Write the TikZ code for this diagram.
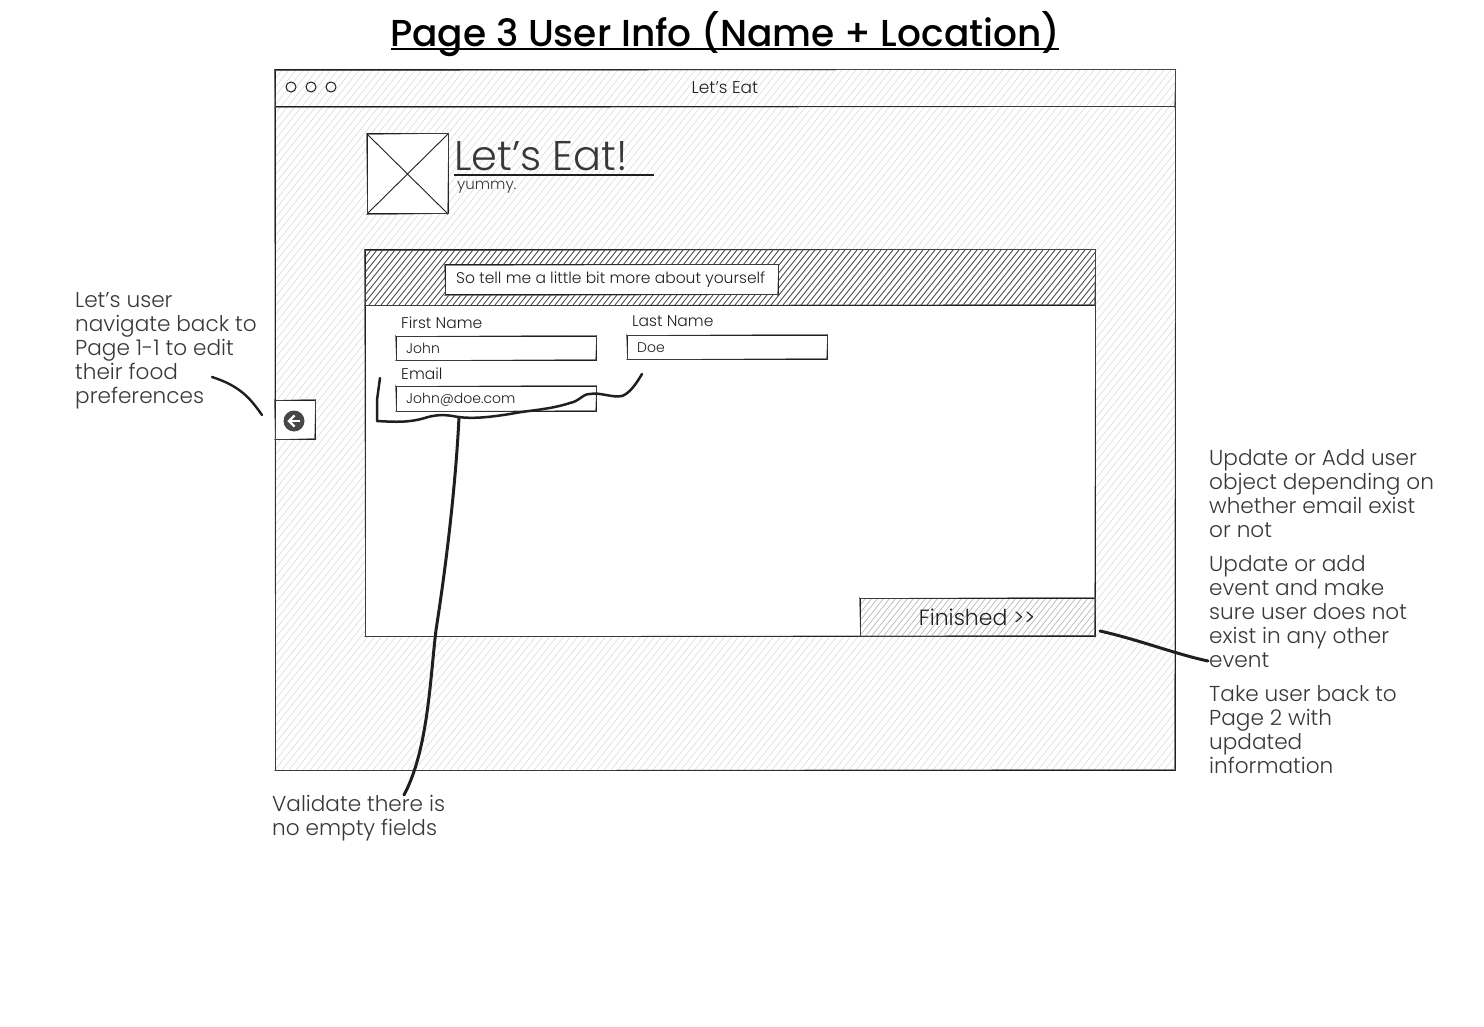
\documentclass[tikz,border=0pt]{standalone}
\usepackage{fontspec}
\setmainfont{Poppins}[UprightFont=* Light,BoldFont=* Medium]
\definecolor{ink}{gray}{0.12}
\definecolor{note}{gray}{0.22}
\newcommand{\hatchbox}[7]{%x1 y1 x2 y2 spacing colour width
  \begin{scope}
    \clip (#1,#2) rectangle (#3,#4);
    \pgfmathsetmacro{\hh}{(#4-#2)*0.8}
    \pgfmathtruncatemacro{\nn}{(#3-#1+\hh)/#5}
    \foreach \k in {0,...,\nn}{
      \pgfmathsetmacro{\xx}{#1-\hh+\k*#5}
      \draw[#6,line width=#7] (\xx,#4) -- ({\xx+\hh},#2);
    }
  \end{scope}}
\newcommand{\fs}[2]{\fontsize{#1}{#2}\selectfont}
% second, slightly crooked pen stroke round a named box
\newcommand{\resketch}[1]{%
  \draw[ink!80,line width=0.5pt,line cap=round]
    ([shift={(-0.6,0.5)}]#1.north west) -- ([shift={(0.8,-0.7)}]#1.north east)
    ([shift={(0.6,-0.6)}]#1.north east) -- ([shift={(-0.4,0.8)}]#1.south east)
    ([shift={(0.8,-0.5)}]#1.south east) -- ([shift={(-0.7,0.7)}]#1.south west)
    ([shift={(0.5,0.7)}]#1.south west) -- ([shift={(-0.5,-0.8)}]#1.north west);}
\tikzset{
  x=1pt,y=-1pt,
  box/.style={draw=ink,line width=1pt,anchor=north west,inner sep=0pt,outer sep=0pt,minimum width=#1},
  txt/.style={anchor=west,inner sep=0pt,text=ink},
  lab/.style={txt,font=\fs{15.5}{18}},
  val/.style={txt,font=\fs{14}{18}},
  notetxt/.style={anchor=north west,inner sep=0pt,align=left,text=note,font=\fs{21.6}{24}},
  conn/.style={draw=ink,line cap=round,line join=round},
}
\begin{document}
\begin{tikzpicture}
\useasboundingbox (0,0) rectangle (1484,1027);
\fill[white] (0,0) rectangle (1484,1027);
% title
\node[inner sep=0pt,text=black,font=\fs{37.5}{40}\bfseries] (title) at (725,34) {Page 3 User Info (Name + Location)};
\draw[black,line width=2.4pt] (391,49) -- (1059,49);
% window
\hatchbox{275}{70}{1175}{770}{7}{black!14}{0.55pt}
\node[box=900pt,minimum height=700pt] (window) at (275,70) {};
\node[box=900pt,minimum height=37pt] (titlebar) at (275,70) {};
\foreach \n/\x in {d1/291,d2/311,d3/331}
  \node[circle,draw=ink,line width=1pt,minimum size=10pt,inner sep=0pt] (\n) at (\x,87) {};
\node[inner sep=0pt,text=ink,font=\fs{17}{18}] (wtitle) at (725,88) {Let's Eat};
% logo
\node[box=81pt,minimum height=80pt,fill=white] (logo) at (367,134) {};
\draw[ink,line width=0.9pt] (logo.north west) -- (logo.south east) (logo.north east) -- (logo.south west);
\node[txt,text=note,font=\fs{41.5}{44}] (brand) at (454,156) {Let's Eat!};
\draw[ink,line width=1.2pt] (454,175) -- (654,175);
\node[txt,text=note,font=\fs{15}{18}] (slogan) at (457,187) {yummy.};
% panel
\node[box=730pt,minimum height=386pt,fill=white] (panel) at (365,250) {};
\hatchbox{365}{250}{1095}{305}{6}{black!75}{0.8pt}
\node[box=730pt,minimum height=55pt] (header) at (365,250) {};
\node[box=333pt,minimum height=30pt,fill=white] (prompt) at (445,265) {};
\node[txt,font=\fs{15.5}{18}] (prompttxt) at (456,280) {So tell me a little bit more about yourself};
% fields
\node[lab] (lfirst) at (401,322.5) {First Name};
\node[box=200pt,minimum height=24pt,fill=white] (ffirst) at (396,336) {};
\node[val] (vfirst) at (406,348.5) {John};
\node[lab] (llast) at (632,321.5) {Last Name};
\node[box=200pt,minimum height=24pt,fill=white] (flast) at (627,335) {};
\node[val] (vlast) at (637,347.5) {Doe};
\node[lab] (lemail) at (401,373.5) {Email};
\node[box=200pt,minimum height=25pt,fill=white] (femail) at (396,386) {};
\node[val] (vemail) at (406,400) {John@doe.com};
% finished button
\fill[white] (860,598) rectangle (1095,636);
\hatchbox{860}{598}{1095}{636}{6}{black!32}{0.55pt}
\node[box=235pt,minimum height=38pt] (finished) at (860,598) {};
\node[inner sep=0pt,text=ink,font=\fs{22}{26}] (fintxt) at (977,617) {Finished >{}>};
% back button
\node[box=40pt,minimum height=39pt,fill=white] (back) at (275,400) {};
\fill[black!72] (294,421) circle (10.5);
\draw[white,line width=2.2pt] (300,421) -- (289.5,421);
\draw[white,line width=2.2pt,line join=miter] (294.5,415.5) -- (289,421) -- (294.5,426.5);
% second pen stroke
\foreach \b in {window,titlebar,logo,panel,header,prompt,ffirst,flast,femail,finished,back}{\resketch{\b}}
% notes
\node[notetxt] (n1) at (75,292) {Let's user\\navigate back to\\Page 1-1 to edit\\their food\\preferences};
\node[notetxt] (n2) at (272,795) {Validate there is\\no empty fields};
\node[notetxt] (n3) at (1209,449) {Update or Add user\\object depending on\\whether email exist\\or not};
\node[notetxt] (n4) at (1209,555) {Update or add\\event and make\\sure user does not\\exist in any other\\event};
\node[notetxt] (n5) at (1209,685) {Take user back to\\Page 2 with\\updated\\information};
% connector ends
\coordinate (c1a) at (212,377);
\coordinate (c1b) at (262,415);
\coordinate (c2a) at (380,378);
\coordinate (c2b) at (642,374);
\coordinate (c3a) at (459,417);
\coordinate (c3b) at (404,795);
\coordinate (c4a) at (1100,631);
\coordinate (c4b) at (1208,661);
\draw[conn,line width=2.4pt] (c1a) .. controls (240,386) and (250,398) .. (c1b);
\draw[conn,line width=2.5pt] (c2a) -- (377,400) -- (377,421)
  .. controls (395,422) and (410,423) .. (428,417)
  .. controls (440,414) and (448,415) .. (458,417)
  .. controls (475,419) and (490,417) .. (510,414)
  .. controls (530,410) and (548,410) .. (570,403)
  .. controls (580,401) and (582,394) .. (590,394)
  .. controls (600,392) and (612,398) .. (622,396)
  .. controls (630,393) and (636,384) .. (c2b);
\draw[conn,line width=3pt] (c3a) .. controls (456,480) and (447,560) .. (436,630)
  .. controls (430,680) and (428,750) .. (c3b);
\draw[conn,line width=3pt] (c4a) .. controls (1140,640) and (1175,654) .. (c4b);
\end{tikzpicture}
\end{document}
